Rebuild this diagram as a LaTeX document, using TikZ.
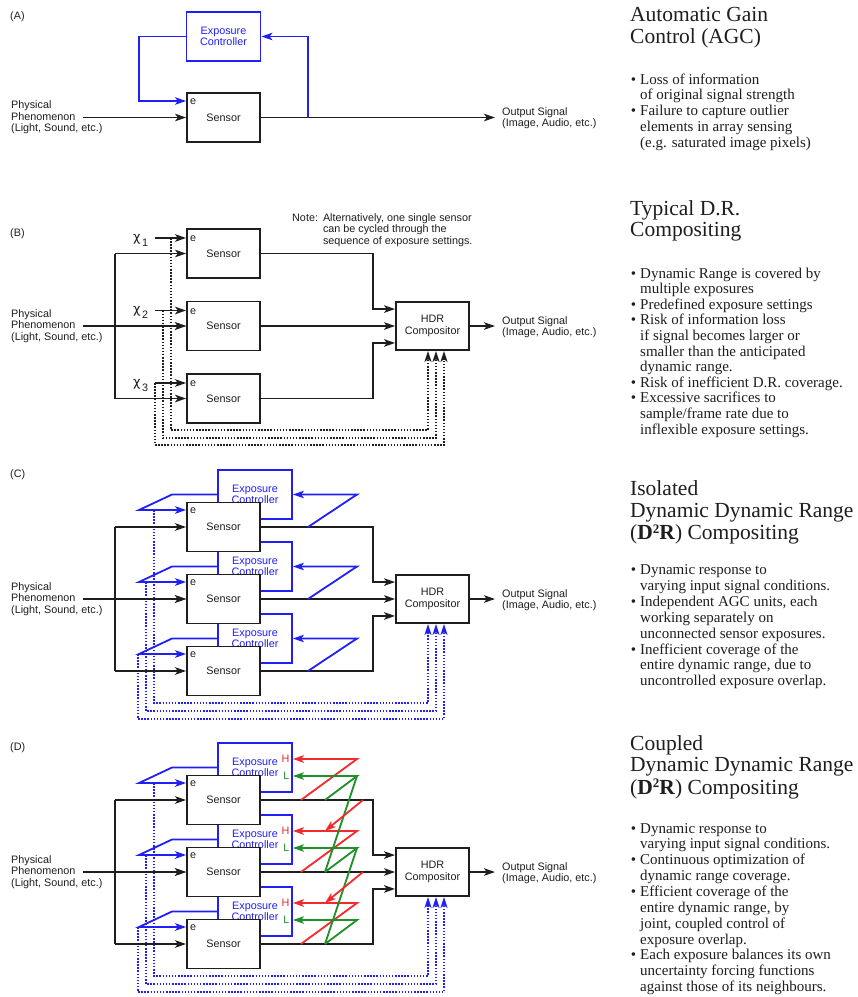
\documentclass[tikz,border=0pt]{standalone}
\usepackage{fontspec}
\setmainfont{Liberation Serif}
\newfontfamily\sansdiag{Liberation Sans}
\newfontfamily\chifont{DejaVu Sans}
\usetikzlibrary{arrows.meta}
\definecolor{blueC}{HTML}{2020F5}
\definecolor{redC}{HTML}{F22A2A}
\definecolor{greenC}{HTML}{1F8F2A}
\definecolor{inkC}{HTML}{1E1E1E}
\newcommand\diagfont{\sansdiag\fontsize{10.8pt}{11.3pt}\selectfont}
\newcommand\ttlfont{\fontsize{21.5pt}{22pt}\selectfont}
\newcommand\bulfont{\fontsize{15pt}{15.8pt}\selectfont}
\newcommand\bul{\llap{\textbullet\hspace{4pt}}}
\newcommand\suptwo{\raisebox{0.3em}{\fontsize{13pt}{13pt}\selectfont 2}}
\tikzset{
  lbl/.style={font=\diagfont, align=left, inner sep=0pt, text=inkC},
  box/.style={draw=inkC, line width=1.9pt, fill=white, minimum width=73pt, minimum height=49pt, inner sep=0pt, font=\diagfont, text=inkC, align=center},
  ecbox/.style={box, draw=blueC, text=blueC, minimum width=74pt},
  wire/.style={line width=1.8pt, color=inkC},
  arr/.style={wire, -{Stealth[length=11pt,width=7.5pt,inset=2.8pt]}},
  barr/.style={arr, color=blueC},
  rarr/.style={arr, color=redC},
  garr/.style={arr, color=greenC},
  gwire/.style={wire, color=greenC},
  darr/.style={line width=1.6pt, color=inkC, dash pattern=on 1.5pt off 1.6pt, -{Stealth[length=11pt,width=7pt,inset=2.8pt]}},
  bdarr/.style={darr, color=blueC},
  ttl/.style={font=\ttlfont, anchor=base west, inner sep=0pt, text=inkC},
  btx/.style={font=\bulfont, anchor=base west, inner sep=0pt, text=inkC},
}
\begin{document}
\begin{tikzpicture}[x=1pt,y=-1pt]
\useasboundingbox (0,0) rectangle (858,997);
\fill[white] (0,0) rectangle (858,997);

%%%%%%%%%%%%%%%% Panel A
\node[lbl, anchor=west] (labA) at (10,17) {(A)};
\node[ecbox] (ecA) at (223.5,36.5) {Exposure\\Controller};
\node[box] (sA) at (223.5,117.5) {Sensor};
\node[lbl, anchor=west] (inA) at (11,117.5) {Physical\\Phenomenon\\(Light, Sound, etc.)};
\node[lbl, anchor=west] (outA) at (502,118.5) {Output Signal\\(Image, Audio, etc.)};
\node[lbl, anchor=west] (eA) at (190,102) {e};
\coordinate (pA) at (83,117.5);
\coordinate (oA) at (495,117.5);
\coordinate (fA) at (308,117.5);
\coordinate (kA) at (139,36.5);
\coordinate (qA) at (139,101);
\draw[arr] (pA) -- (sA.west);
\draw[arr] (sA.east) -- (oA);
\draw[barr] (fA) |- (ecA.east);
\draw[barr] (ecA.west) -- (kA) -- (qA) -- (sA.west |- qA);

%%%%%%%%%%%%%%%% Panel B
\node[lbl, anchor=west] (labB) at (10,234) {(B)};
\node[box, minimum height=48pt] (cB) at (432.5,326) {HDR\\Compositor};
\node[lbl, anchor=west] (inB) at (11,326) {Physical\\Phenomenon\\(Light, Sound, etc.)};
\node[lbl, anchor=west] (outB) at (502,327) {Output Signal\\(Image, Audio, etc.)};
\node[lbl, anchor=north west] (noteB) at (292,213.5) {\begin{tabular}{@{}l@{\hspace{5pt}}l@{}}Note: & Alternatively, one single sensor\\ & can be cycled through the\\ & sequence of exposure settings.\end{tabular}};
\coordinate (pB) at (83,326);
\coordinate (oB) at (495,326);
\draw[arr] (cB.east) -- (oB);
\foreach \i/\sy/\ey/\dx/\by/\cx in {1/253.5/238/171/430/-4.5pt, 2/326/310.5/163/438/3.5pt, 3/398.5/383/155/445/11.5pt}{
  \node[box] (sB\i) at (223.5,\sy) {Sensor};
  \coordinate (jB\i) at (115,\sy);
  \coordinate (eB\i) at (155,\ey);
  \coordinate (dB\i) at (\dx,\ey);
  \coordinate (bB\i) at (\dx,\by);
  \draw[darr] (dB\i) -- (bB\i) -| ([xshift=\cx]cB.south);
  \draw[arr] (eB\i) -- (sB\i.west |- eB\i);
  \draw[arr] (jB\i) -- (sB\i.west);
  \node[lbl, anchor=west] (eLB\i) at (190,\ey+1) {e};
  \node[lbl, anchor=base west] (chiB\i) at (133,\ey+3) {{\chifont\fontsize{13pt}{13pt}\selectfont χ}\hspace{1.5pt}\raisebox{-5pt}{\i}};
}
\draw[wire] (jB1) -- (jB3);
\draw[arr] (pB) -- (sB2.west);
\draw[arr] (sB1.east) -- ++(112,0) |- ([yshift=-8pt]cB.north west);
\draw[arr] (sB2.east) -- (cB.west);
\draw[arr] (sB3.east) -- ++(112,0) |- ([yshift=8pt]cB.south west);

%%%%%%%%%%%%%%%% Panel C
\node[lbl, anchor=west] (labC) at (10,475) {(C)};
\node[box, minimum height=48pt] (cC) at (432.5,599) {HDR\\Compositor};
\node[lbl, anchor=west] (inC) at (11,599) {Physical\\Phenomenon\\(Light, Sound, etc.)};
\node[lbl, anchor=west] (outC) at (502,600) {Output Signal\\(Image, Audio, etc.)};
\coordinate (pC) at (83,599);
\coordinate (oC) at (495,599);
\foreach \i in {1,2,3}{
  \node[ecbox] (ecC\i) at (255,{494.5+72*(\i-1)}) {Exposure\\Controller};
}
\foreach \i in {1,2,3}{
  \node[box] (sC\i) at (223.5,{527+72*(\i-1)}) {Sensor};
}
\draw[arr] (cC.east) -- (oC);
\draw[arr] (sC1.east) -- ++(112,0) |- ([yshift=-8pt]cC.north west);
\draw[arr] (sC2.east) -- (cC.west);
\draw[arr] (sC3.east) -- ++(112,0) |- ([yshift=8pt]cC.south west);
\foreach \i in {1,2,3}{
  \pgfmathsetmacro\sy{527+72*(\i-1)}
  \pgfmathsetmacro\ey{\sy-32.5}
  \pgfmathsetmacro\dx{154-8*(\i-1)}
  \pgfmathsetmacro\by{703+8*(\i-1)}
  \pgfmathsetmacro\cx{-4.5+8*(\i-1)}
  \coordinate (jC\i) at (115,\sy);
  \coordinate (kC\i) at (172,\ey);
  \coordinate (qC\i) at (139,\sy-17);
  \coordinate (dC\i) at (\dx,\sy-17);
  \coordinate (bC\i) at (\dx,\by);
  \coordinate (fC\i) at (308,\sy);
  \coordinate (gC\i) at (357,\ey);
  \draw[bdarr] (dC\i) -- (bC\i) -| ([xshift=\cx pt]cC.south);
  \draw[barr] (ecC\i.west) -- (kC\i) -- (qC\i) -- (sC\i.west |- qC\i);
  \draw[barr] (fC\i) -- (gC\i) -- (ecC\i.east);
  \draw[arr] (jC\i) -- (sC\i.west);
  \node[lbl, anchor=west] (eLC\i) at (190,\sy-16) {e};
}
\draw[wire] (jC1) -- (jC3);
\draw[arr] (pC) -- (sC2.west);

%%%%%%%%%%%%%%%% Panel D
\node[lbl, anchor=west] (labD) at (10,748) {(D)};
\node[box, minimum height=48pt] (cD) at (432.5,872) {HDR\\Compositor};
\node[lbl, anchor=west] (inD) at (11,872) {Physical\\Phenomenon\\(Light, Sound, etc.)};
\node[lbl, anchor=west] (outD) at (502,873) {Output Signal\\(Image, Audio, etc.)};
\coordinate (pD) at (83,872);
\coordinate (oD) at (495,872);
\foreach \i in {1,2,3}{
  \node[ecbox] (ecD\i) at (255,{767.5+72*(\i-1)}) {Exposure\\Controller};
}
\foreach \i in {1,2,3}{
  \node[box] (sD\i) at (223.5,{800+72*(\i-1)}) {Sensor};
}
\draw[arr] (cD.east) -- (oD);
\draw[arr] (sD1.east) -- ++(112,0) |- ([yshift=-8pt]cD.north west);
\draw[arr] (sD2.east) -- (cD.west);
\draw[arr] (sD3.east) -- ++(112,0) |- ([yshift=8pt]cD.south west);
\foreach \i in {1,2,3}{
  \pgfmathsetmacro\sy{800+72*(\i-1)}
  \pgfmathsetmacro\ey{\sy-32.5}
  \pgfmathsetmacro\dx{154-8*(\i-1)}
  \pgfmathsetmacro\by{976+8*(\i-1)}
  \pgfmathsetmacro\cx{-4.5+8*(\i-1)}
  \coordinate (jD\i) at (115,\sy);
  \coordinate (kD\i) at (172,\ey);
  \coordinate (qD\i) at (139,\sy-17);
  \coordinate (dD\i) at (\dx,\sy-17);
  \coordinate (bD\i) at (\dx,\by);
  \coordinate (hD\i) at (357,\ey-8.5);
  \coordinate (lD\i) at (357,\ey+8.5);
  \coordinate (rD\i) at (301,\sy);
  \coordinate (uD\i) at (325,\sy);
  \coordinate (vD\i) at (363,\sy);
  \draw[bdarr] (dD\i) -- (bD\i) -| ([xshift=\cx pt]cD.south);
  \draw[barr] (ecD\i.west) -- (kD\i) -- (qD\i) -- (sD\i.west |- qD\i);
  \draw[rarr] (rD\i) -- (hD\i) -- ([yshift=8.5pt]ecD\i.east);
  \draw[garr] (uD\i) -- (lD\i) -- ([yshift=-8.5pt]ecD\i.east);
  \node[lbl, anchor=east, text=redC] (hLD\i) at (289.5,\ey-8.5) {H};
  \node[lbl, anchor=east, text=greenC] (lLD\i) at (289.5,\ey+8.5) {L};
  \draw[arr] (jD\i) -- (sD\i.west);
  \node[lbl, anchor=west] (eLD\i) at (190,\sy-16) {e};
}
\draw[gwire] (lD1) -- (uD2);
\draw[gwire] (lD2) -- (uD3);
\draw[rarr] (vD1) -- (uD2 |- hD2);
\draw[rarr] (vD2) -- (uD3 |- hD3);
\draw[wire] (jD1) -- (jD3);
\draw[arr] (pD) -- (sD2.west);

%%%%%%%%%%%%%%%% Right-hand texts
\node[ttl] (tA1) at (630,21.7) {Automatic Gain};
\node[ttl] (tA2) at (630,43.3) {Control (AGC)};
\foreach \t [count=\k from 0] in {{\bul Loss of information},{of original signal strength},{\bul Failure to capture outlier},{elements in array sensing},{(e.g. saturated image pixels)}}{
  \node[btx] (bA\k) at (640,{84+15.8*\k}) {\t};
}
\node[ttl] (tB1) at (630,215) {Typical D.R.};
\node[ttl] (tB2) at (630,236.5) {Compositing};
\foreach \t [count=\k from 0] in {{\bul Dynamic Range is covered by},{multiple exposures},{\bul Predefined exposure settings},{\bul Risk of information loss},{if signal becomes larger or},{smaller than the anticipated},{dynamic range.},{\bul Risk of inefficient D.R. coverage.},{\bul Excessive sacrifices to},{sample/frame rate due to},{inflexible exposure settings.}}{
  \node[btx] (bB\k) at (640,{278+15.6*\k}) {\t};
}
\node[ttl] (tC1) at (630,495.5) {Isolated};
\node[ttl] (tC2) at (630,517) {Dynamic Dynamic Range};
\node[ttl] (tC3) at (630,539.5) {(\textbf{D\suptwo R}) Compositing};
\foreach \t [count=\k from 0] in {{\bul Dynamic response to},{varying input signal conditions.},{\bul Independent AGC units, each},{working separately on},{unconnected sensor exposures.},{\bul Inefficient coverage of the},{entire dynamic range, due to},{uncontrolled exposure overlap.}}{
  \node[btx] (bC\k) at (640,{574.5+15.9*\k}) {\t};
}
\node[ttl] (tD1) at (630,750) {Coupled};
\node[ttl] (tD2) at (630,771.7) {Dynamic Dynamic Range};
\node[ttl] (tD3) at (630,794) {(\textbf{D\suptwo R}) Compositing};
\foreach \t [count=\k from 0] in {{\bul Dynamic response to},{varying input signal conditions.},{\bul Continuous optimization of},{dynamic range coverage.},{\bul Efficient coverage of the},{entire dynamic range, by},{joint, coupled control of},{exposure overlap.},{\bul Each exposure balances its own},{uncertainty forcing functions},{against those of its neighbours.}}{
  \node[btx] (bD\k) at (640,{833+15.87*\k}) {\t};
}
\end{tikzpicture}
\end{document}
